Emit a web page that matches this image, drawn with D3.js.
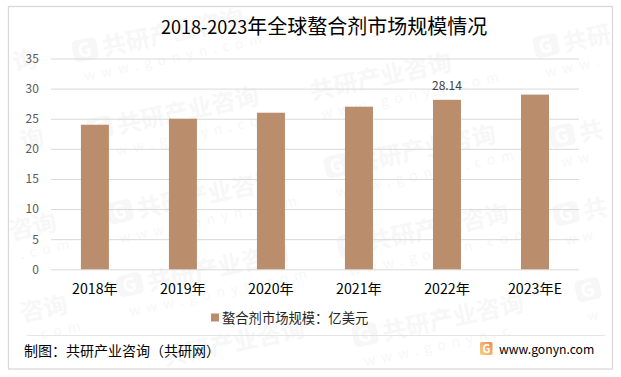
<!DOCTYPE html>
<html>
<head>
<meta charset="utf-8">
<script src="https://cdn.jsdelivr.net/npm/d3@7"></script>
<style>
@font-face { font-family: "Cal"; src: local("Lato"); size-adjust: 88%; unicode-range: U+0020-007F; }
body { margin: 0; background: #fff; }
svg { display: block; }
text { font-family: "Cal", "Noto Sans CJK SC", sans-serif; }
</style>
</head>
<body>
<script>
var years = ["2018年", "2019年", "2020年", "2021年", "2022年", "2023年E"];
var sizes = [24, 25, 26, 27, 28.14, 29];
var yTicks = [0, 5, 10, 15, 20, 25, 30, 35];
var labelled = ["2022年"]; //only this bar has a number on it

var titleYears = "2018-2023";
var title = "年全球螯合剂市场规模情况";
var legendName = "螯合剂市场规模：亿美元";
var source = "制图：共研产业咨询（共研网）";
var site = "www.gonyn.com";

// watermark stamps: x, baseline y, logo or not, name part, site part (the frame cuts the ones at the sides)
var stamps = [
    [75, 62, true, "共研产业咨询", "www.gonyn.com"],
    [90, 140, true, "共研产业咨询", "www.gonyn.com"],
    [312, 100, false, "共研产业咨询", "www.gonyn.com"],
    [536, 58, true, "共研", "www."],
    [327, 178, true, "共研产业咨询", "www.gonyn.com"],
    [552, 148, true, "共", "ww"],
    [110, 224, true, "共研产业咨询", "www.gonyn.com"],
    [120, 297, true, "共研产业咨询", "www.gonyn.com"],
    [340, 257, true, "共研产业咨询", "www.gonyn.com"],
    [556, 226, true, "共", "ww"],
    [355, 347, true, "共研产业咨询", "www.gonyn.c"],
    [578, 302, true, "", "w"],
    [165, 366, false, "共研产业咨询", ""],
    [15, 71, false, "询", ""],
    [22, 150, false, "询", ""],
    [11, 240, false, "咨询", ".com"],
    [22, 322, false, "咨询", ".com"]
];

var width = 621, height = 377;
var barColor = "#ba8e6c", gridColor = "#d9d9d9";

var svg = d3.select("body").append("svg")
    .attr("width", width)
    .attr("height", height);

svg.append("rect") //frame
    .attr("x", 8.5).attr("y", 6.5)
    .attr("width", 604).attr("height", 362.5)
    .attr("fill", "#fff")
    .attr("stroke", gridColor)
    .attr("stroke-width", 1.3);

var marks = svg.append("g")
    .attr("fill", "#f7f7f7");

stamps.forEach(function(s) {
    var g = marks.append("g").attr("transform", "translate(" + s[0] + "," + s[1] + ") rotate(-12)");
    var off = 0;
    if (s[2]) {
        g.append("rect")
            .attr("x", 0).attr("y", -21).attr("width", 25).attr("height", 22).attr("rx", 5);
        g.append("text").attr("x", 5).attr("y", -3).attr("font-size", 19).attr("font-weight", 700).attr("fill", "#fff").text("G");
        off = 30;
    }
    g.append("text").attr("x", off).attr("y", 0).attr("font-size", 24).attr("font-weight", 700).text(s[3]);
    g.append("text").attr("x", 6).attr("y", 21).attr("font-size", 14).attr("letter-spacing", 6).text(s[4]);
});

var x = d3.scaleBand()
    .domain(years)
    .range([50.9, 579])
    .paddingInner(0.682)
    .paddingOuter(0.341);

var y = d3.scaleLinear()
    .domain([0, 35])
    .range([269.3, 58.5]);

var yAxis = svg.append("g")
    .attr("transform", "translate(50.9,0)")
    .call(d3.axisLeft(y).tickValues(yTicks).tickSize(-(579 - 50.9)).tickPadding(12));

yAxis.select(".domain").remove();
yAxis.selectAll("line").attr("stroke", gridColor).attr("stroke-width", 1);
yAxis.selectAll("text").attr("fill", "#595959").attr("font-size", 12);

svg.selectAll(".bar")
    .data(sizes)
    .enter().append("rect")
    .attr("class", "bar")
    .attr("x", function(d, i) { return x(years[i]); })
    .attr("y", function(d) { return y(d); })
    .attr("width", x.bandwidth())
    .attr("height", function(d) { return y(0) - y(d); })
    .attr("fill", barColor);

svg.selectAll(".val")
    .data(sizes)
    .enter().filter(function(d, i) { return labelled.indexOf(years[i]) >= 0; })
    .append("text")
    .attr("class", "val")
    .attr("x", function(d) { return x(years[sizes.indexOf(d)]) + x.bandwidth() / 2; })
    .attr("y", function(d) { return y(d) - 10; })
    .attr("text-anchor", "middle")
    .attr("font-size", 12)
    .attr("fill", "#404040")
    .text(function(d) { return d; });

var xAxis = svg.append("g")
    .attr("transform", "translate(0,269.3)")
    .call(d3.axisBottom(x).tickSize(0).tickPadding(15));

xAxis.select(".domain").remove();
xAxis.selectAll("text").attr("fill", "#000").attr("font-size", 14.2);

var titleText = svg.append("text") //title, digits a bit smaller so the line is as wide as the original
    .attr("x", 161).attr("y", 34)
    .attr("font-size", 20)
    .attr("fill", "#000");
titleText.append("tspan").attr("font-size", 18).text(titleYears);
titleText.append("tspan").text(title);

svg.append("rect") //legend swatch
    .attr("x", 211).attr("y", 313.5)
    .attr("width", 8).attr("height", 8)
    .attr("fill", barColor);

svg.append("text")
    .attr("x", 222).attr("y", 322.5)
    .attr("font-size", 13.3)
    .attr("fill", "#262626")
    .text(legendName);

svg.append("line") //footer rule
    .attr("x1", 27).attr("x2", 605)
    .attr("y1", 335.5).attr("y2", 335.5)
    .attr("stroke", "#e4e4e4");

svg.append("text")
    .attr("x", 24).attr("y", 356)
    .attr("font-size", 14)
    .attr("fill", "#000")
    .text(source);

var grad = svg.append("defs").append("linearGradient").attr("id", "logo")
    .attr("x1", 0).attr("y1", 1).attr("x2", 1).attr("y2", 0);
grad.append("stop").attr("offset", 0).attr("stop-color", "#f9d27e");
grad.append("stop").attr("offset", 1).attr("stop-color", "#f0885a");

svg.append("rect")
    .attr("x", 480).attr("y", 342)
    .attr("width", 12.5).attr("height", 13).attr("rx", 1.5)
    .attr("fill", "url(#logo)");

svg.append("text")
    .attr("x", 482.5).attr("y", 352.5)
    .attr("font-size", 11)
    .attr("font-weight", 700)
    .attr("fill", "#fff")
    .text("G");

svg.append("text")
    .attr("x", 499).attr("y", 354)
    .attr("font-size", 12.2)
    .attr("fill", "#000")
    .text(site);
</script>
</body>
</html>
